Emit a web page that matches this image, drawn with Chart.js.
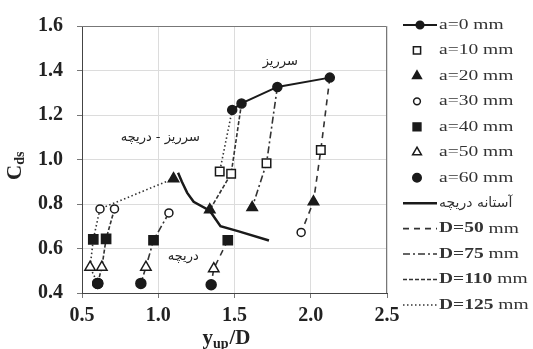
<!DOCTYPE html>
<html lang="fa">
<head>
<meta charset="UTF-8">
<title>Cds - yup/D</title>
<script src="https://cdn.jsdelivr.net/npm/chart.js"></script>
<style>
  html, body { margin: 0; padding: 0; background: #fff; }
  #wrap { width: 533px; height: 349px; }
</style>
</head>
<body>
<div id="wrap"><canvas id="grafico"></canvas></div>
<script>
  // gate openings (mm) and pipe diameters (mm)
  const aValues = [0, 10, 20, 30, 40, 50, 60];
  const dValues = [50, 75, 110, 125];
  const xTicks = [0.5, 1.0, 1.5, 2.0, 2.5];
  const yTicks = [0.4, 0.6, 0.8, 1.0, 1.2, 1.4, 1.6];

  // y_up/D and Cds, one value per a (0..60 mm)
  const xD50 = [2.125, 2.066, 2.018, 1.937, 1.456, 1.364, 1.347];
  const cD50 = [1.368, 1.043, 0.810, 0.672, 0.637, 0.509, 0.437];
  const xD75 = [1.781, 1.710, 1.616, 1.070, 0.969, 0.919, 0.886];
  const cD75 = [1.326, 0.983, 0.784, 0.760, 0.637, 0.516, 0.443];
  const xD110 = [1.546, 1.478, 1.338, 0.713, 0.658, 0.630, 0.603];
  const cD110 = [1.252, 0.936, 0.774, 0.778, 0.643, 0.516, 0.443];
  const xD125 = [1.485, 1.403, 1.100, 0.618, 0.574, 0.553, 0.603];
  const cD125 = [1.223, 0.946, 0.914, 0.778, 0.641, 0.516, 0.443];
  // index where each D curve is broken (regime change)
  const gapD = [4, 3, 3, 2];

  // gate threshold curve
  const xThreshold = [1.130, 1.155, 1.190, 1.232, 1.338, 1.408, 1.528, 1.726];
  const cThreshold = [0.940, 0.900, 0.850, 0.810, 0.770, 0.700, 0.677, 0.636];

  const dX = [xD50, xD75, xD110, xD125];
  const dC = [cD50, cD75, cD110, cD125];

  const ink = '#1a1a1a';
  const markerStyles = [
    { pointStyle: 'circle', radius: 4.5, fill: ink },
    { pointStyle: 'rect', radius: 6, fill: '#fff' },
    { pointStyle: 'triangle', radius: 6, fill: ink },
    { pointStyle: 'circle', radius: 4, fill: '#fff' },
    { pointStyle: 'rect', radius: 6.5, fill: ink },
    { pointStyle: 'triangle', radius: 6, fill: '#fff' },
    { pointStyle: 'circle', radius: 5, fill: ink }
  ];
  const dDash = [[6, 5], [7, 3, 2, 3], [4, 2], [1.5, 2.5]];

  const datasets = [];
  // markers for each a
  aValues.forEach((a, i) => {
    let pts = dX.map((xs, k) => ({ x: xs[i], y: dC[k][i] }));
    pts.sort((p, q) => p.x - q.x);
    const st = markerStyles[i];
    datasets.push({
      label: 'a=' + a + ' mm',
      data: pts,
      showLine: i === 0,
      borderColor: ink,
      borderWidth: 2,
      pointStyle: st.pointStyle,
      pointRadius: st.radius,
      pointBorderWidth: 1.5,
      pointBorderColor: ink,
      pointBackgroundColor: st.fill
    });
  });
  // threshold line
  datasets.push({
    label: 'آستانه دریچه',
    data: xThreshold.map((x, i) => ({ x: x, y: cThreshold[i] })),
    showLine: true,
    borderColor: ink,
    borderWidth: 2.5,
    pointRadius: 0
  });
  // D curves
  dValues.forEach((d, k) => {
    const pts = [];
    dX[k].forEach((x, i) => {
      if (i === gapD[k]) pts.push({ x: x, y: null });
      pts.push({ x: x, y: dC[k][i] });
    });
    datasets.push({
      label: 'D=' + d + ' mm',
      data: pts,
      showLine: true,
      spanGaps: false,
      borderColor: '#333',
      borderWidth: 1.6,
      borderDash: dDash[k],
      pointRadius: 0
    });
  });

  const tickFont = { family: 'Liberation Serif', size: 20, weight: 'bold' };

  const extras = {
    id: 'extras',
    beforeDatasetsDraw(chart) {
      const { ctx, chartArea: c } = chart;
      ctx.save();
      ctx.strokeStyle = '#777';
      ctx.lineWidth = 1;
      ctx.beginPath();
      ctx.moveTo(c.left, c.top + 0.5);
      ctx.lineTo(c.right - 0.5, c.top + 0.5);
      ctx.lineTo(c.right - 0.5, c.bottom);
      ctx.stroke();
      ctx.restore();
    },
    afterDraw(chart) {
      const { ctx, scales } = chart;
      const sx = scales.x, sy = scales.y;
      ctx.save();
      ctx.fillStyle = '#222';

      // axis titles
      ctx.textBaseline = 'alphabetic';
      ctx.textAlign = 'left';
      const big = 'bold 21px "Liberation Serif"';
      const small = 'bold 14px "Liberation Serif"';
      ctx.font = big; const w1 = ctx.measureText('y').width;
      ctx.font = small; const w2 = ctx.measureText('up').width;
      ctx.font = big; const w3 = ctx.measureText('/D').width;
      let x0 = 226 - (w1 + w2 + w3) / 2;
      const by = 344;
      ctx.font = big; ctx.fillText('y', x0, by);
      ctx.font = small; ctx.fillText('up', x0 + w1, by + 4);
      ctx.font = big; ctx.fillText('/D', x0 + w1 + w2 + 1, by);

      ctx.save();
      ctx.translate(21, 180);
      ctx.rotate(-Math.PI / 2);
      ctx.font = 'bold 21px "Liberation Serif"';
      const wc = ctx.measureText('C').width;
      ctx.fillText('C', 0, 0);
      ctx.font = 'bold 14px "Liberation Serif"';
      ctx.fillText('ds', wc, 3);
      ctx.restore();

      // region labels
      ctx.font = '13px "DejaVu Sans"';
      ctx.textAlign = 'center';
      ctx.textBaseline = 'middle';
      ctx.fillText('سرریز', sx.getPixelForValue(1.80), sy.getPixelForValue(1.44));
      ctx.fillText('سرریز - دریچه', sx.getPixelForValue(1.013), sy.getPixelForValue(1.10));
      ctx.fillText('دریچه', sx.getPixelForValue(1.164), sy.getPixelForValue(0.563));

      // legend
      const mx = 417, lx0 = 403, lx1 = 437, tx = 439;
      const rowY = i => 25 + i * 25.45;
      ctx.textAlign = 'left';
      ctx.textBaseline = 'middle';
      const drawText = (parts, y) => {
        ctx.save();
        ctx.translate(tx, y);
        ctx.scale(1.3, 1);
        let cx = 0;
        parts.forEach(p => {
          ctx.font = p.font;
          ctx.fillStyle = '#333';
          ctx.fillText(p.t, cx, 0);
          cx += ctx.measureText(p.t).width;
        });
        ctx.restore();
      };
      const reg = '15px "Liberation Serif"';
      const bold = 'bold 15px "Liberation Serif"';
      aValues.forEach((a, i) => {
        const y = rowY(i);
        const st = markerStyles[i];
        if (i === 0) {
          ctx.strokeStyle = ink; ctx.lineWidth = 2; ctx.setLineDash([]);
          ctx.beginPath(); ctx.moveTo(lx0, y); ctx.lineTo(lx1, y); ctx.stroke();
        }
        ctx.fillStyle = st.fill; ctx.strokeStyle = ink; ctx.lineWidth = 1.5;
        Chart.helpers.drawPoint(ctx, { pointStyle: st.pointStyle, radius: st.radius * 0.85, rotation: 0, borderWidth: 1.5 }, i === 0 ? 420 : mx, y);
        drawText([{ t: 'a=' + a + ' mm', font: reg }], y);
      });
      let y = rowY(7);
      ctx.strokeStyle = ink; ctx.lineWidth = 2.5; ctx.setLineDash([]);
      ctx.beginPath(); ctx.moveTo(lx0, y); ctx.lineTo(lx1, y); ctx.stroke();
      ctx.font = '14px "DejaVu Sans"';
      ctx.fillStyle = '#333';
      ctx.fillText('آستانه دریچه', tx, y);
      dValues.forEach((d, k) => {
        const yy = rowY(8 + k);
        ctx.strokeStyle = '#333'; ctx.lineWidth = 1.6; ctx.setLineDash(dDash[k]);
        ctx.beginPath(); ctx.moveTo(lx0, yy); ctx.lineTo(lx1, yy); ctx.stroke();
        ctx.setLineDash([]);
        drawText([{ t: 'D=' + d, font: bold }, { t: ' mm', font: reg }], yy);
      });
      ctx.restore();
    }
  };

  const ctx1 = document.getElementById('grafico').getContext('2d');
  const grafico = new Chart(ctx1, {
    type: 'scatter',
    data: { datasets: datasets },
    options: {
      responsive: true,
      maintainAspectRatio: false,
      animation: false,
      layout: { padding: { left: 0, right: 146, top: 21, bottom: 0 } },
      plugins: { legend: { display: false }, tooltip: { enabled: false } },
      scales: {
        x: {
          type: 'linear', min: 0.5, max: 2.5,
          afterBuildTicks: s => { s.ticks = xTicks.map(v => ({ value: v })); },
          afterFit: s => { s.height = 56; },
          ticks: { font: tickFont, color: '#222', padding: 6, callback: v => v.toFixed(1) },
          grid: { color: '#dcdcdc', tickLength: 5, tickColor: '#777' },
          border: { color: '#444', width: 1 }
        },
        y: {
          type: 'linear', min: 0.4, max: 1.6,
          afterBuildTicks: s => { s.ticks = yTicks.map(v => ({ value: v })); },
          afterFit: s => { s.width = 82; },
          ticks: { font: tickFont, color: '#222', padding: 14, callback: v => v.toFixed(1) },
          grid: { color: '#dcdcdc', tickLength: 5, tickColor: '#777' },
          border: { color: '#444', width: 1 }
        }
      }
    },
    plugins: [extras]
  });
</script>
</body>
</html>
